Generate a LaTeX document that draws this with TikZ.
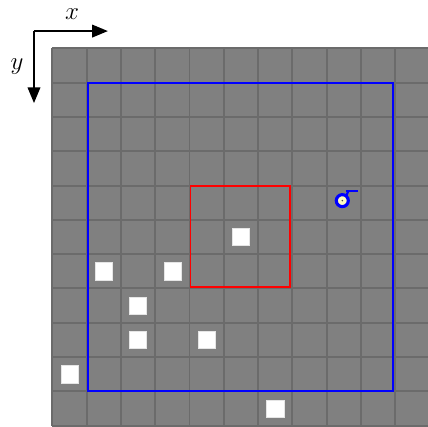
\documentclass[tikz,border=0pt]{standalone}
\usetikzlibrary{arrows.meta}
\tikzset{
    cellline/.style={draw=black!58, line width=1.6pt},
    block/.style={fill=white, draw=white!80!gray, line width=0.4pt},
    axis/.style={line width=1.2pt, -{Triangle[length=13pt,width=10.5pt]}}
}
\begin{document}
\begin{tikzpicture}[y=-1cm]
    \useasboundingbox (-1.525, -1.41) rectangle (10.925, 11.04);

    % grid of cells
    \fill[black!50] (0, 0) rectangle (11, 11);
    \draw[cellline] (0, 0) grid (11, 11);

    % obstacles
    \foreach \c/\r in {5/5, 1/6, 3/6, 2/7, 2/8, 4/8, 0/9, 6/10}
        \filldraw[block] (\c+0.25, \r+0.25) rectangle (\c+0.75, \r+0.75);

    % outer and inner windows
    \draw[blue, line width=1.5pt] (1.03, 1.0) -- (9.93, 1.0) -- (9.93, 9.98) -- (1.03, 9.98) -- cycle;
    \draw[red, line width=1.4pt] (4.03, 4.01) -- (6.94, 4.01) -- (6.94, 6.95) -- (4.03, 6.95) -- cycle;

    % agent with heading mark
    \filldraw[draw=blue, fill=yellow!25, line width=2.6pt] (8.455, 4.44) circle (0.175);
    \fill[black!70] (8.455, 4.44) circle (0.025);
    \draw[blue, line width=1.8pt] (8.57, 4.31) -- (8.63, 4.16);
    \draw[blue, line width=1.6pt] (8.57, 4.16) -- (8.9, 4.16);

    % axes
    \coordinate (origin) at (-0.534, -0.504);
    \coordinate (xtip) at (1.62, -0.504);
    \coordinate (ytip) at (-0.534, 1.595);
    \draw[axis] (origin) -- (xtip);
    \draw[axis] (origin) -- (ytip);
    \node (xlabel) at (0.574, -1.0) {\huge $x$};
    \node (ylabel) at (-1.03, 0.52) {\huge $y$};
\end{tikzpicture}
\end{document}
